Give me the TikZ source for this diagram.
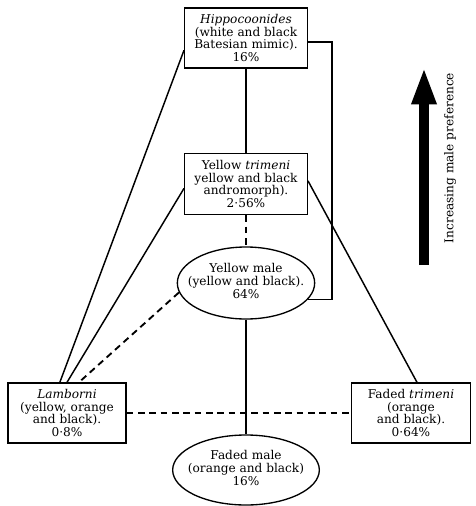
\documentclass[tikz,border=0pt]{standalone}
\usepackage{fontspec}
\setmainfont{DejaVu Serif}
\usetikzlibrary{arrows.meta,shapes.geometric,calc}
\newcommand{\flatbox}[1]{\makebox[0pt]{\begin{tabular}{@{}c@{}}#1\end{tabular}}}
\begin{document}
\begin{tikzpicture}[x=0.75pt,y=-0.75pt,
  lbl/.style={font=\fontsize{9.1}{9.7}\selectfont, align=center, inner sep=0pt},
  box/.style={lbl, draw, line width=1pt, rectangle},
  oval/.style={lbl, draw, line width=1pt, ellipse},
  conn/.style={line width=1.1pt},
  dconn/.style={line width=1.4pt, dash pattern=on 5pt off 3.5pt}]
\useasboundingbox (0,0) rectangle (475,506);

\node[box, minimum width=92pt, minimum height=45pt] (top) at (246,38)
  {\textit{Hippocoonides}\\(white and black\\Batesian mimic).\\16\%};
\node[box, minimum width=92pt, minimum height=46pt] (yt) at (246,184)
  {Yellow \textit{trimeni}\\yellow and black\\andromorph).\\2·56\%};
\node[oval, minimum width=103pt, minimum height=54pt] (ym) at (246,283)
  {\flatbox{Yellow male\\(yellow and black).\\64\%}};
\node[box, minimum width=88.5pt, minimum height=45pt] (lamb) at (67,413)
  {\textit{Lamborni}\\(yellow, orange\\and black).\\0·8\%};
\node[box, minimum width=89pt, minimum height=45pt] (ftr) at (411,413)
  {Faded \textit{trimeni}\\(orange\\and black).\\0·64\%};
\node[oval, minimum width=110pt, minimum height=52.5pt] (fm) at (246,470)
  {\flatbox{Faded male\\(orange and black)\\16\%}};

\coordinate (c1) at (332,42);
\draw[conn] (top.south) -- (yt.north);
\draw[dconn] (yt.south) -- (ym.north);
\draw[conn] (ym.south) -- (fm.north);
\draw[conn] (top.east |- c1) -- (c1) -- (ym.-15 -| c1) -- (ym.-15);
\draw[conn] ($(top.north west)!0.7!(top.south west)$) -- ($(lamb.north west)!0.44!(lamb.north east)$);
\draw[conn] ($(yt.north west)!0.57!(yt.south west)$) -- (lamb.north);
\draw[dconn] (ym.188) -- ($(lamb.north west)!0.6!(lamb.north east)$);
\draw[conn] ($(yt.north east)!0.45!(yt.south east)$) -- ($(ftr.north west)!0.55!(ftr.north east)$);
\draw[dconn] (lamb.east) -- (ftr.west);

\coordinate (abase) at (424,265);
\coordinate (atip) at (424,67);
\draw[line width=7.5pt, -{Triangle[length=28pt,width=17pt]}] (abase) -- (atip);
\node[lbl, rotate=90] (pref) at (450,158) {Increasing male preference};
\end{tikzpicture}
\end{document}
